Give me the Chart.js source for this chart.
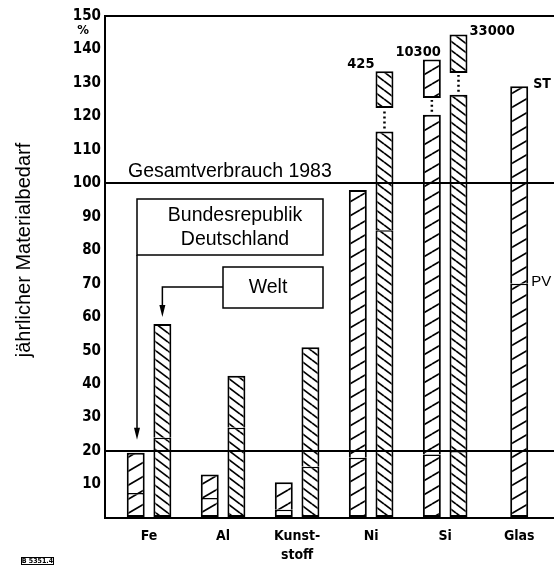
<!DOCTYPE html>
<html lang="de">
<head>
<meta charset="UTF-8">
<title>Jährlicher Materialbedarf</title>
<script src="https://cdn.jsdelivr.net/npm/chart.js"></script>
<style>
    html, body { margin: 0; padding: 0; background: #fff; overflow: hidden; }
    .chart-container { position: relative; width: 554px; height: 565px; }
</style>
</head>
<body>
<div class="chart-container"><canvas id="materialChart"></canvas></div>
<script>
    // Material demand in % of Gesamtverbrauch 1983
    const categories = ['Fe', 'Al', ['Kunst-', 'stoff'], 'Ni', 'Si', 'Glas'];
    const positions = [1, 2, 3, 4, 5, 6];
    const yTickValues = [0, 10, 20, 30, 40, 50, 60, 70, 80, 90, 100, 110, 120, 130, 140, 150];
    const refLines = [0, 20, 100, 150];

    // Bundesrepublik Deutschland: lower (PV) part and total height
    const brdLower = [7.5, 6, 2.5, 18, 19, 70];
    const brdTotal = [19.5, 13, 10.7, 98, 120.5, 129];
    // Welt
    const weltLower = [24, 27, 15.3, 86, 20, null];
    const weltTotal = [58, 42.5, 51, 115.5, 126.5, null];
    // bar tops beyond the axis, shown as broken-off pieces
    const brdBreak = [null, null, null, null, [125.5, 137], null];
    const weltBreak = [null, null, null, [122.5, 133.5], [133, 144.5], null];
    const brdBreakNotes = ['', '', '', '', '10300', ''];
    const weltBreakNotes = ['', '', '', '425', '33000', ''];

    const canvas = document.getElementById('materialChart');
    const condensed = "'DejaVu Sans Condensed', 'DejaVu Sans', sans-serif";
    const plain = "'Liberation Sans', Arial, sans-serif";

    // hatch fill: white tile with one diagonal line per repeat
    function hatch(spacing, width, dir) {
        const tile = document.createElement('canvas');
        tile.width = width;
        tile.height = spacing;
        const g = tile.getContext('2d');
        g.fillStyle = '#fff';
        g.fillRect(0, 0, width, spacing);
        g.strokeStyle = '#000';
        g.lineWidth = 1.7;
        for (const off of [-spacing, 0, spacing]) {
            g.beginPath();
            if (dir === '/') { g.moveTo(0, spacing + off); g.lineTo(width, off); }
            else { g.moveTo(0, off); g.lineTo(width, spacing + off); }
            g.stroke();
        }
        return canvas.getContext('2d').createPattern(tile, 'repeat');
    }

    const brdHatch = hatch(14, 24, '/');
    const weltHatch = hatch(9, 12, '\\');

    const lowerPart = (lower) => lower.map(v => (v == null ? null : [0, v]));
    const upperPart = (lower, total) => lower.map((v, i) => (v == null ? null : [v, total[i]]));

    const lowerBorder = { top: 1.5, left: 2, right: 2, bottom: 2 };
    const upperBorder = { top: 2, left: 2, right: 2, bottom: 0 };

    const datasets = [
        { label: 'BRD PV', stack: 'brd', data: lowerPart(brdLower), backgroundColor: brdHatch, borderWidth: lowerBorder },
        { label: 'BRD', stack: 'brd', data: upperPart(brdLower, brdTotal), backgroundColor: brdHatch, borderWidth: upperBorder },
        { label: 'BRD >150', stack: 'brd', data: brdBreak, backgroundColor: brdHatch, borderWidth: 2 },
        { label: 'Welt PV', stack: 'welt', data: lowerPart(weltLower), backgroundColor: weltHatch, borderWidth: lowerBorder },
        { label: 'Welt', stack: 'welt', data: upperPart(weltLower, weltTotal), backgroundColor: weltHatch, borderWidth: upperBorder },
        { label: 'Welt >150', stack: 'welt', data: weltBreak, backgroundColor: weltHatch, borderWidth: 2 }
    ];

    // texts, boxes, arrows and break markers drawn on top of the chart
    const annotations = {
        id: 'annotations',
        afterDraw(chart) {
            const { ctx, scales: { y } } = chart;
            const el = (ds, i) => chart.getDatasetMeta(ds).data[i];
            ctx.save();
            ctx.fillStyle = '#000';
            ctx.strokeStyle = '#000';

            // unit under the top tick
            ctx.font = `bold 13px ${condensed}`;
            ctx.textAlign = 'center';
            ctx.textBaseline = 'middle';
            ctx.fillText('%', 83, y.getPixelForValue(145.5));

            // axis title
            ctx.save();
            ctx.translate(24, 250);
            ctx.rotate(-Math.PI / 2);
            ctx.font = `20px ${plain}`;
            ctx.fillText('jährlicher Materialbedarf', 0, 0);
            ctx.restore();

            // reference line label
            ctx.font = `19.5px ${plain}`;
            ctx.textAlign = 'left';
            ctx.textBaseline = 'alphabetic';
            ctx.fillText('Gesamtverbrauch 1983', 128, y.getPixelForValue(100) - 6);

            // legend boxes
            ctx.lineWidth = 1.5;
            ctx.strokeRect(137, 199, 186, 56);
            ctx.strokeRect(223, 267, 100, 41);
            ctx.textAlign = 'center';
            ctx.textBaseline = 'middle';
            ctx.fillText('Bundesrepublik', 235, 216);
            ctx.fillText('Deutschland', 235, 240);
            ctx.fillText('Welt', 268, 288);

            const arrowHead = (x, tipY) => {
                ctx.beginPath();
                ctx.moveTo(x, tipY);
                ctx.lineTo(x - 3, tipY - 12);
                ctx.lineTo(x + 3, tipY - 12);
                ctx.closePath();
                ctx.fill();
            };
            // BRD arrow: down from the box edge to the Fe bar
            const brdTip = el(1, 0).y - 13;
            ctx.beginPath();
            ctx.moveTo(137, 255);
            ctx.lineTo(137, brdTip - 6);
            ctx.stroke();
            arrowHead(137, brdTip);
            // Welt arrow
            const weltFe = el(4, 0);
            const weltTip = weltFe.y - 7;
            ctx.beginPath();
            ctx.moveTo(223, 287);
            ctx.lineTo(weltFe.x, 287);
            ctx.lineTo(weltFe.x, weltTip - 6);
            ctx.stroke();
            arrowHead(weltFe.x, weltTip);

            // dotted connectors and values of the broken-off bars
            const breaks = [[1, 2, brdBreak, brdBreakNotes, 'brd'], [4, 5, weltBreak, weltBreakNotes, 'welt']];
            ctx.font = `bold 14.5px ${condensed}`;
            for (const [upper, piece, values, notes, group] of breaks) {
                values.forEach((v, i) => {
                    if (!v) return;
                    const top = el(upper, i);
                    const box = el(piece, i);
                    ctx.save();
                    ctx.lineWidth = 2.5;
                    ctx.setLineDash([2, 3]);
                    ctx.beginPath();
                    ctx.moveTo(top.x, top.y - 3);
                    ctx.lineTo(box.x, box.base + 2);
                    ctx.stroke();
                    ctx.restore();

                    const half = box.width / 2;
                    ctx.textBaseline = 'alphabetic';
                    if (group === 'brd') {
                        ctx.textAlign = 'right';
                        ctx.fillText(notes[i], box.x + half, box.y - 4);
                    } else if (brdBreak[i]) {
                        ctx.textAlign = 'left';
                        ctx.fillText(notes[i], box.x + half + 2, box.y + 1);
                    } else {
                        ctx.textAlign = 'right';
                        ctx.fillText(notes[i], box.x - half - 1, box.y - 3);
                    }
                });
            }

            // segment names on the Glas bar
            const glasTop = el(1, 5);
            const glasPv = el(0, 5);
            ctx.font = `bold 14px ${condensed}`;
            ctx.textAlign = 'left';
            ctx.fillText('ST', glasTop.x + glasTop.width / 2 + 5, glasTop.y + 2);
            ctx.font = `15px ${plain}`;
            ctx.fillText('PV', glasPv.x + glasPv.width / 2 + 3, glasPv.y + 2);

            // figure number
            ctx.lineWidth = 1;
            ctx.strokeRect(21.5, 557.5, 32, 7);
            ctx.font = `bold 7px ${condensed}`;
            ctx.textAlign = 'center';
            ctx.textBaseline = 'middle';
            ctx.fillText('B 5351.4', 37.5, 561.5);
            ctx.restore();
        }
    };

    new Chart(canvas, {
        type: 'bar',
        data: { labels: positions, datasets },
        options: {
            responsive: true,
            maintainAspectRatio: false,
            animation: false,
            events: [],
            layout: { padding: { top: 16, right: 0, bottom: 0, left: 0 } },
            datasets: {
                bar: {
                    categoryPercentage: 0.72,
                    barPercentage: 0.674,
                    maxBarThickness: 18,
                    skipNull: true,
                    borderSkipped: false,
                    borderColor: '#000'
                }
            },
            plugins: { legend: { display: false }, tooltip: { enabled: false } },
            scales: {
                x: {
                    type: 'linear',
                    offset: false,
                    min: 0.405,
                    max: 6.47,
                    afterBuildTicks: (scale) => { scale.ticks = positions.map(v => ({ value: v })); },
                    afterFit: (scale) => { scale.height = 47; },
                    grid: { display: false, drawTicks: false },
                    border: { color: '#000', width: 2 },
                    ticks: {
                        autoSkip: false,
                        maxRotation: 0,
                        padding: 9,
                        color: '#000',
                        font: { family: condensed, size: 14, weight: 'bold', lineHeight: 1.35 },
                        callback: (v) => categories[positions.indexOf(v)] ?? ''
                    }
                },
                y: {
                    min: 0,
                    max: 150,
                    stacked: false,
                    afterFit: (scale) => { scale.width = 105; },
                    afterBuildTicks: (scale) => { scale.ticks = yTickValues.map(v => ({ value: v })); },
                    grid: {
                        z: 1,
                        drawTicks: false,
                        lineWidth: 2,
                        color: (c) => (refLines.includes(c.tick && c.tick.value) ? '#000' : 'rgba(0,0,0,0)')
                    },
                    border: { z: 1, color: '#000', width: 2 },
                    ticks: {
                        padding: 4,
                        color: '#000',
                        font: { family: condensed, size: 15, weight: 'bold' },
                        callback: (v) => (v === 0 ? '' : v)
                    }
                }
            }
        },
        plugins: [annotations]
    });
</script>
</body>
</html>
